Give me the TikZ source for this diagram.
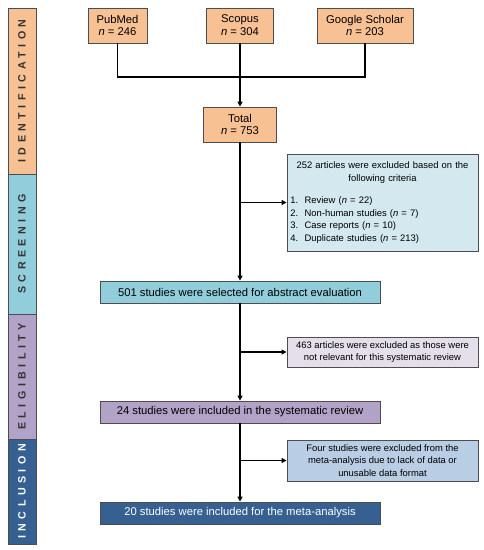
\documentclass[tikz,border=0pt]{standalone}
\usepackage{fontspec}
\setmainfont{Liberation Sans}
\newfontfamily\barfont[LetterSpace=42]{Liberation Sans}
\usetikzlibrary{arrows.meta}

\definecolor{idorange}{HTML}{F8C193}
\definecolor{scrblue}{HTML}{92CDDC}
\definecolor{scrlight}{HTML}{D3E9EF}
\definecolor{eliglav}{HTML}{B3A2C7}
\definecolor{eliglight}{HTML}{E5DFEC}
\definecolor{incdark}{HTML}{366092}
\definecolor{inclight}{HTML}{B9CDE5}
\definecolor{edge}{HTML}{4D4D4D}

\begin{document}
\begin{tikzpicture}[
    x=0.025cm, y=-0.025cm,
    box/.style={rectangle,draw=edge,line width=0.6pt,inner sep=1pt,align=center,
        font=\fontsize{8}{9.2}\selectfont},
    src/.style={box,fill=idorange,minimum height=0.875cm},
    stage/.style={box,minimum width=7cm,minimum height=0.55cm},
    side/.style={box,font=\fontsize{6.7}{8.9}\selectfont,minimum width=4.775cm},
    bar/.style={rectangle,draw=edge,line width=0.6pt,rotate=90,minimum height=0.7cm,
        inner sep=0pt,text=black!80,font=\barfont\bfseries\fontsize{7.6}{8}\selectfont},
    line/.style={line width=1.1pt},
    arrow/.style={line width=1.1pt,-{Triangle[length=3.5pt,width=3.5pt]}}
]
\useasboundingbox (0,0) rectangle (483,550);

% phase bar on the left
\node[bar,fill=idorange,minimum width=4.15cm] (ident) at (22,91) {IDENTIFICATION};
\node[bar,fill=scrblue,minimum width=3.5cm] (screen) at (22,244) {SCREENING};
\node[bar,fill=eliglav,minimum width=3.125cm] (elig) at (22,376.5) {ELIGIBILITY};
\node[bar,fill=incdark,minimum width=2.625cm,text=white] (incl) at (22,491.5) {INCLUSION};

% databases
\node[src,minimum width=1.475cm] (pubmed) at (117.5,25.5) {PubMed\\\textit{n} = 246};
\node[src,minimum width=1.675cm] (scopus) at (240,25.5) {Scopus\\\textit{n} = 304};
\node[src,minimum width=2.4cm] (google) at (365,25.5) {Google Scholar\\\textit{n} = 203};
\coordinate (join) at (240,77);

\node[src,minimum width=1.825cm] (total) at (240,124.5) {Total\\\textit{n} = 753};

% main flow
\node[stage,fill=scrblue] (abstr) at (240,292) {501 studies were selected for abstract evaluation};
\node[stage,fill=eliglav] (sysrev) at (240,412) {24 studies were included in the systematic review};
\node[stage,fill=incdark,text=white] (meta) at (240,513) {20 studies were included for the meta-analysis};

% exclusions
\node[side,fill=scrlight,minimum height=2.425cm,text width=4.6cm,align=left] (excl1) at (382.5,202.5)
    {\centering 252 articles were excluded based on the\\following criteria\par\vspace{7pt}
     \raggedright 1.~~Review (\textit{n} = 22)\\2.~~Non-human studies (\textit{n} = 7)\\
     3.~~Case reports (\textit{n} = 10)\\4.~~Duplicate studies (\textit{n} = 213)\par};
\node[side,fill=eliglight,minimum height=0.75cm] (excl2) at (382.5,352)
    {463 articles were excluded as those were\\not relevant for this systematic review};
\node[side,fill=inclight,minimum height=1.025cm] (excl3) at (382.5,460.5)
    {Four studies were excluded from the\\meta-analysis due to lack of data or\\unusable data format};

\draw[line] (pubmed.south) |- (join);
\draw[line] (google.south) |- (join);
\draw[arrow] (scopus.south) -- (total.north);
\draw[arrow] (total.south) -- (abstr.north);
\draw[arrow] (total.south |- excl1.west) -- (excl1.west);
\draw[arrow] (abstr.south) -- (sysrev.north);
\draw[arrow] (abstr.south |- excl2.west) -- (excl2.west);
\draw[arrow] (sysrev.south) -- (meta.north);
\draw[arrow] (sysrev.south |- excl3.west) -- (excl3.west);

\end{tikzpicture}
\end{document}
